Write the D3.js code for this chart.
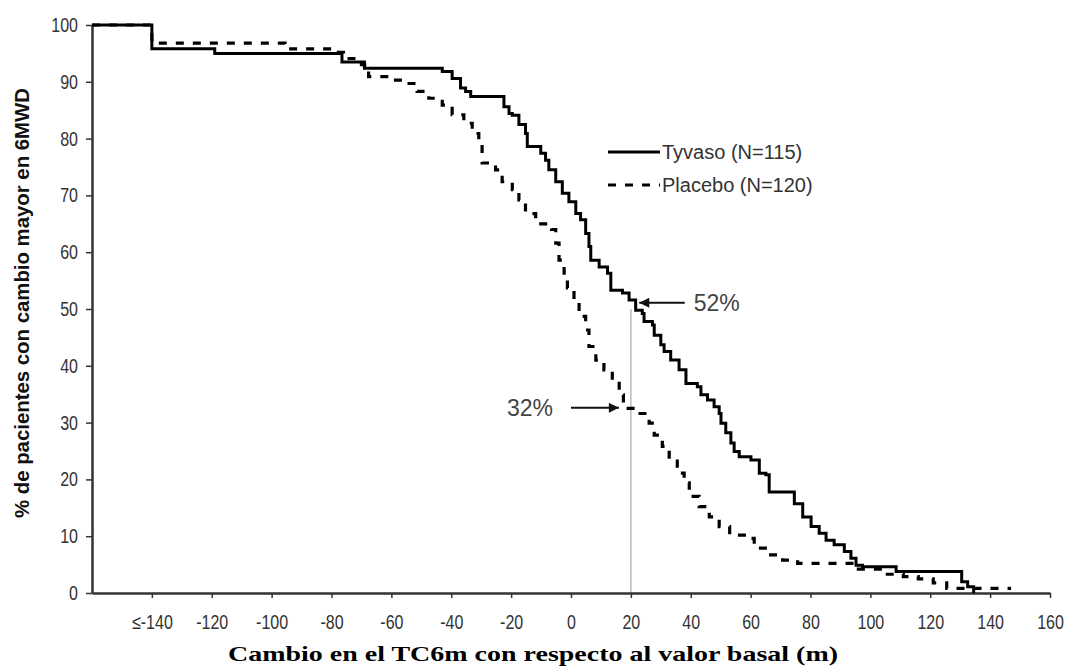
<!DOCTYPE html>
<html>
<head>
<meta charset="utf-8">
<script src="https://cdn.jsdelivr.net/npm/d3@7"></script>
<style>
  body { margin: 0; background: #fff; }
  svg { display: block; }
</style>
</head>
<body>
<svg id="chart"></svg>
<script>
// cambio en TC6m (m) donde la curva cambia de nivel, y % de pacientes desde ese punto
var tyvasoX = [-160, -140, -119, -76.5, -69, -43, -39.7, -36.9, -35.2, -33.5, -22.4, -20.7, -19.6, -17.4, -15.2, -14.6, -10.1, -8.5, -7.4, -5.1, -2.9, -0.7, 1.6, 3.2, 4.9, 6.0, 6.6, 9.4, 12.2, 13.3, 17.2, 19.4, 21.6, 23.8, 24.4, 27.2, 27.8, 30, 31.1, 33.3, 36.1, 38.4, 42.2, 43.4, 45.6, 47.8, 49.5, 50.1, 51.7, 53.4, 54.5, 56.2, 60.1, 62.9, 65.1, 66.2, 72.4, 74.6, 77.4, 80.2, 82.9, 85.2, 87.9, 91.3, 93.5, 95.2, 97.4, 108.6, 130.5, 132.5, 134.5];
var tyvasoPct = [100, 95.8, 95.0, 93.5, 92.4, 91.8, 90.6, 88.9, 88.3, 87.4, 85.6, 84.4, 84.1, 82.5, 80.9, 78.6, 77.4, 76.2, 74.5, 72.4, 70.4, 68.9, 66.8, 65.7, 63.3, 61.0, 58.6, 57.4, 56.3, 53.3, 52.8, 51.6, 49.8, 49.2, 47.8, 47.2, 45.4, 43.7, 42.5, 41.0, 39.3, 36.9, 36.3, 34.9, 34.0, 32.8, 31.6, 29.9, 28.2, 26.4, 24.9, 24.0, 23.4, 21.1, 20.8, 17.8, 17.8, 15.7, 13.4, 11.7, 10.5, 9.3, 8.5, 7.3, 6.1, 4.9, 4.6, 3.8, 2.0, 1.1, 0];

var placeboX = [-160, -140, -95.5, -80, -76, -70, -67.6, -60.9, -55.3, -51.4, -47.5, -43, -39.7, -35.8, -33, -30.8, -29.7, -25.2, -23, -19.6, -17.4, -15.2, -11.8, -6.5, -5.1, -4, -2.3, -1.2, 1, 2.7, 4.9, 6, 8.3, 11, 13.8, 16.1, 17.5, 22.5, 26.1, 27.8, 30.5, 32.8, 35.5, 37.8, 39.5, 42.8, 46.2, 49.5, 53, 57.9, 61.2, 65.7, 70.7, 75.7, 96, 104, 111, 116, 121, 125.5, 147];
var placeboPct = [100, 96.8, 95.8, 95.2, 94.1, 93.0, 90.9, 90.3, 89.7, 88.3, 87.1, 85.9, 84.2, 82.7, 80.9, 78.9, 75.7, 74.5, 72.4, 71.0, 69.2, 66.8, 65.0, 64.0, 61.6, 58.6, 56.3, 53.7, 51.1, 48.7, 46.3, 43.4, 41.0, 39.3, 37.2, 34.9, 32.5, 31.6, 29.9, 27.8, 25.8, 23.2, 21.1, 19.4, 17.0, 15.2, 13.4, 11.7, 10.2, 9.6, 7.9, 6.7, 5.8, 5.2, 4.2, 3.3, 2.9, 2.5, 1.8, 0.8, 0.8];

var xTicks = [-140, -120, -100, -80, -60, -40, -20, 0, 20, 40, 60, 80, 100, 120, 140, 160];
var yTicks = [0, 10, 20, 30, 40, 50, 60, 70, 80, 90, 100];
var seriesLabels = ["Tyvaso (N=115)", "Placebo (N=120)"];
var markX = 20;
var markLabels = ["52%", "32%"];
var markPct = [51.1, 32.6];

var width = 1067, height = 670;
var svg = d3.select("#chart").attr("width", width).attr("height", height);

var x = d3.scaleLinear().domain([-160, 160]).range([92, 1050]);
var y = d3.scaleLinear().domain([0, 100]).range([593, 25]);

var sans = "'Liberation Sans', Arial, sans-serif";
var squeeze = 0.8; // las etiquetas del original son estrechas

// línea vertical gris en 20 m
svg.append("line")
    .attr("x1", x(markX)).attr("x2", x(markX))
    .attr("y1", y(50)).attr("y2", y(0))
    .style("stroke", "#bbb").style("stroke-width", 1.5);

// ejes
var xAxis = svg.append("g")
    .attr("transform", "translate(0," + y(0) + ")")
    .call(d3.axisBottom(x).tickValues(xTicks).tickSize(5).tickSizeOuter(0)
        .tickFormat(function (d) { return d === -140 ? "\u2264-140" : d; }));
xAxis.select(".domain").style("stroke", "#333").style("stroke-width", 2.5);
xAxis.selectAll(".tick line").style("stroke", "#333").style("stroke-width", 1.5);
xAxis.selectAll(".tick text")
    .attr("y", 29).attr("dy", "0.35em")
    .attr("transform", "scale(" + squeeze + ",1)")
    .style("font-family", sans).style("font-size", "20px").style("fill", "#333");

var yAxis = svg.append("g")
    .attr("transform", "translate(" + x(-160) + ",0)")
    .call(d3.axisLeft(y).tickValues(yTicks).tickSize(6).tickSizeOuter(0));
yAxis.select(".domain").style("stroke", "#333").style("stroke-width", 2.5);
yAxis.selectAll(".tick line").style("stroke", "#333").style("stroke-width", 1.5);
yAxis.selectAll(".tick text")
    .attr("x", -14 / squeeze)
    .attr("transform", "scale(" + squeeze + ",1)")
    .style("font-family", sans).style("font-size", "20px").style("fill", "#333");

// curvas
var lineFunction = d3.line()
    .x(function (d) { return x(d[0]); })
    .y(function (d) { return y(d[1]); })
    .curve(d3.curveStepAfter);

var tyvaso = d3.zip(tyvasoX, tyvasoPct);
var placebo = d3.zip(placeboX, placeboPct);

svg.append("path")
    .attr("d", lineFunction(placebo))
    .attr("fill", "none")
    .style("stroke", "#000").style("stroke-width", 3.2)
    .style("stroke-dasharray", "8,9");

svg.append("path")
    .attr("d", lineFunction(tyvaso))
    .attr("fill", "none")
    .style("stroke", "#000").style("stroke-width", 3);

// leyenda
var legend = svg.append("g");
legend.selectAll("line")
    .data(seriesLabels)
    .enter().append("line")
    .attr("x1", 608).attr("x2", 660)
    .attr("y1", function (d, i) { return 152 + i * 33; })
    .attr("y2", function (d, i) { return 152 + i * 33; })
    .style("stroke", "#000").style("stroke-width", 3)
    .style("stroke-dasharray", function (d, i) { return i === 1 ? "8,9" : null; });
legend.selectAll("text")
    .data(seriesLabels)
    .enter().append("text")
    .attr("x", 662)
    .attr("y", function (d, i) { return 152 + i * 33; })
    .attr("dy", "0.35em")
    .style("font-family", sans).style("font-size", "20px").style("fill", "#333")
    .text(function (d) { return d; });

// flechas 52% y 32%
svg.append("defs").append("marker")
    .attr("id", "head")
    .attr("viewBox", "0 0 10 10")
    .attr("refX", 10).attr("refY", 5)
    .attr("markerWidth", 6).attr("markerHeight", 5)
    .attr("markerUnits", "strokeWidth")
    .attr("orient", "auto")
    .append("path").attr("d", "M0,0L10,5L0,10Z").attr("fill", "#111");

svg.append("line")
    .attr("x1", x(38)).attr("x2", x(22.8))
    .attr("y1", y(markPct[0])).attr("y2", y(markPct[0]))
    .style("stroke", "#111").style("stroke-width", 2)
    .attr("marker-end", "url(#head)");
svg.append("text")
    .attr("x", x(41)).attr("y", y(markPct[0])).attr("dy", "0.35em")
    .style("font-family", sans).style("font-size", "23px").style("fill", "#444")
    .text(markLabels[0]);

svg.append("line")
    .attr("x1", x(0)).attr("x2", x(16))
    .attr("y1", y(markPct[1])).attr("y2", y(markPct[1]))
    .style("stroke", "#111").style("stroke-width", 2)
    .attr("marker-end", "url(#head)");
svg.append("text")
    .attr("x", x(-6)).attr("y", y(markPct[1])).attr("dy", "0.35em")
    .attr("text-anchor", "end")
    .style("font-family", sans).style("font-size", "23px").style("fill", "#444")
    .text(markLabels[1]);

// títulos de ejes
svg.append("text")
    .attr("x", 533).attr("y", 661)
    .attr("text-anchor", "middle")
    .attr("textLength", 610).attr("lengthAdjust", "spacingAndGlyphs")
    .style("font-family", "'Liberation Serif', 'Times New Roman', serif").style("font-weight", "bold")
    .style("font-size", "21px").style("fill", "#000")
    .text("Cambio en el TC6m con respecto al valor basal (m)");

svg.append("text")
    .attr("transform", "translate(29,303) rotate(-90)")
    .attr("text-anchor", "middle")
    .attr("textLength", 430).attr("lengthAdjust", "spacingAndGlyphs")
    .style("font-family", sans).style("font-weight", "bold")
    .style("font-size", "20px").style("fill", "#111")
    .text("% de pacientes con cambio mayor en 6MWD");
</script>
</body>
</html>
